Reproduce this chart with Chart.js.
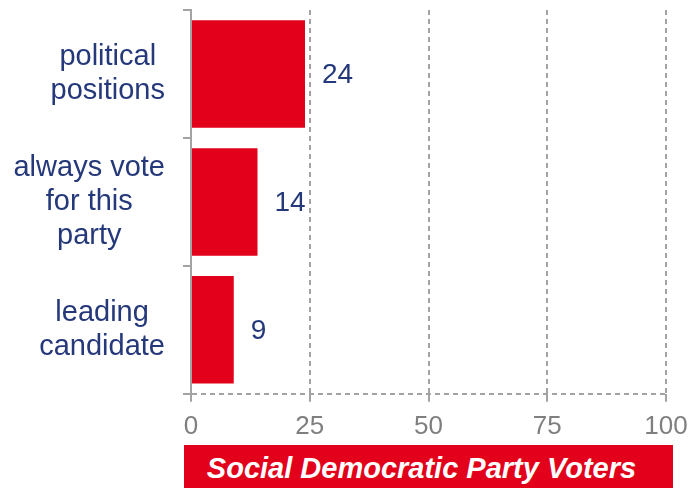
<!DOCTYPE html>
<html>
<head>
<meta charset="utf-8">
<script src="https://cdn.jsdelivr.net/npm/chart.js@4"></script>
<style>
  html, body { margin: 0; padding: 0; background: #fff; }
  #wrap { position: relative; width: 691px; height: 488px; }
  #banner {
    position: absolute; left: 184px; top: 445px; width: 489px; height: 43px;
    background: #e2001a; color: #fff; font: italic bold 29px "Liberation Sans", Arial, sans-serif;
    line-height: 46px; text-align: center; box-sizing: border-box; padding-right: 14px;
  }
</style>
</head>
<body>
<div id="wrap">
  <canvas id="c" width="691" height="488"></canvas>
  <div id="banner">Social Democratic Party Voters</div>
</div>
<script>
const categories = [["political", "positions"], ["always vote", "for this", "party"], ["leading", "candidate"]];
const values = [24, 14, 9];
const xTicks = [0, 25, 50, 75, 100];

const NAVY = '#24387a';
const RED = '#e2001a';
const GRAY = '#a3a3a3';
const FONT = '"Liberation Sans", Arial, sans-serif';

const customDraw = {
  id: 'customDraw',
  afterDatasetsDraw(chart) {
    const ctx = chart.ctx;
    const meta = chart.getDatasetMeta(0);
    ctx.save();
    ctx.fillStyle = NAVY;
    ctx.font = '28px ' + FONT;
    ctx.textAlign = 'left';
    ctx.textBaseline = 'middle';
    meta.data.forEach((bar, i) => {
      ctx.fillText(String(values[i]), bar.x + 17, bar.y + 1);
    });
    // y labels: each block right-aligned, lines centered within the block
    const ys = chart.scales.y;
    ctx.font = '29px ' + FONT;
    ctx.textAlign = 'center';
    const lh = 34;
    const right = 165;
    categories.forEach((lines, i) => {
      const py = ys.getPixelForTick(i);
      const w = Math.max(...lines.map(l => ctx.measureText(l).width));
      const cx = right - w / 2;
      const y0 = py - (lines.length - 1) * lh / 2;
      lines.forEach((l, j) => ctx.fillText(l, cx, y0 + j * lh));
    });
    ctx.restore();
  }
};

new Chart(document.getElementById('c'), {
  type: 'bar',
  data: {
    labels: categories,
    datasets: [{
      data: values,
      backgroundColor: RED,
      borderWidth: 0,
      barPercentage: 0.84,
      categoryPercentage: 1.0
    }]
  },
  options: {
    indexAxis: 'y',
    responsive: false,
    animation: false,
    events: [],
    layout: { padding: { top: 10, right: 25, bottom: 37, left: 0 } },
    plugins: { legend: { display: false }, tooltip: { enabled: false } },
    scales: {
      x: {
        min: 0, max: 100,
        afterBuildTicks(scale) { scale.ticks = xTicks.map(v => ({ value: v })); },
        afterFit(scale) { scale.paddingLeft = 0; scale.paddingRight = 0; },
        grid: {
          color: GRAY, lineWidth: 2, tickLength: 8,
          tickBorderDash: [], tickColor: GRAY, tickWidth: 2
        },
        border: { display: false, dash: [5, 4] },
        ticks: { color: '#7f7f7f', font: { family: FONT, size: 26 }, padding: 9, maxRotation: 0 }
      },
      y: {
        afterFit(scale) { scale.width = 191; },
        grid: {
          drawOnChartArea: true, drawTicks: true, tickLength: 8, lineWidth: 2, offset: true,
          color: (c) => (c.type === 'scale' ? GRAY : 'rgba(0,0,0,0)'),
          tickColor: GRAY, tickBorderDash: [], tickWidth: 2
        },
        border: { display: true, color: GRAY, width: 2, dash: [5, 4] },
        ticks: { callback: () => '', font: { family: FONT, size: 10 } }
      }
    }
  },
  plugins: [customDraw]
});
</script>
</body>
</html>
